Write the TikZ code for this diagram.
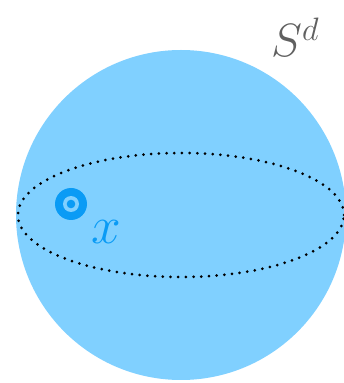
\documentclass[tikz,border=0pt]{standalone}
\usepackage{graphicx}
\usepackage{xcolor}
\definecolor{sphere}{RGB}{128,208,255}
\definecolor{ptblue}{RGB}{10,155,245}
\definecolor{labgray}{RGB}{96,96,96}
\begin{document}
\begin{tikzpicture}[x=1pt,y=1pt,
  spherestyle/.style={circle,fill=sphere,draw=none,minimum size=330pt,inner sep=0pt},
  eqstyle/.style={draw=black,line width=3pt,line cap=round,dash pattern=on 0pt off 7.7pt},
  ptouter/.style={circle,fill=ptblue,minimum size=32pt,inner sep=0pt},
  ptring/.style={circle,fill=sphere,minimum size=16pt,inner sep=0pt},
  ptinner/.style={circle,fill=ptblue,minimum size=8.6pt,inner sep=0pt}]
\useasboundingbox (0,0) rectangle (344,383);
\node[spherestyle] (sph) at (181,168) {};
\draw[eqstyle] (181,168) ellipse [x radius=163, y radius=62];
\node[ptouter] (p) at (71,179) {};
\node[ptring] (pr) at (p.center) {};
\node[ptinner] (pi) at (p.center) {};
\node[text=ptblue,inner sep=0pt] (xl) at (106,151) {\scalebox{2.57}{\huge$x$}};
\node[text=labgray,inner sep=0pt,anchor=base west] (sd) at (271,326) {\scalebox{2.25}{\huge$S^{d}$}};
\end{tikzpicture}
\end{document}
